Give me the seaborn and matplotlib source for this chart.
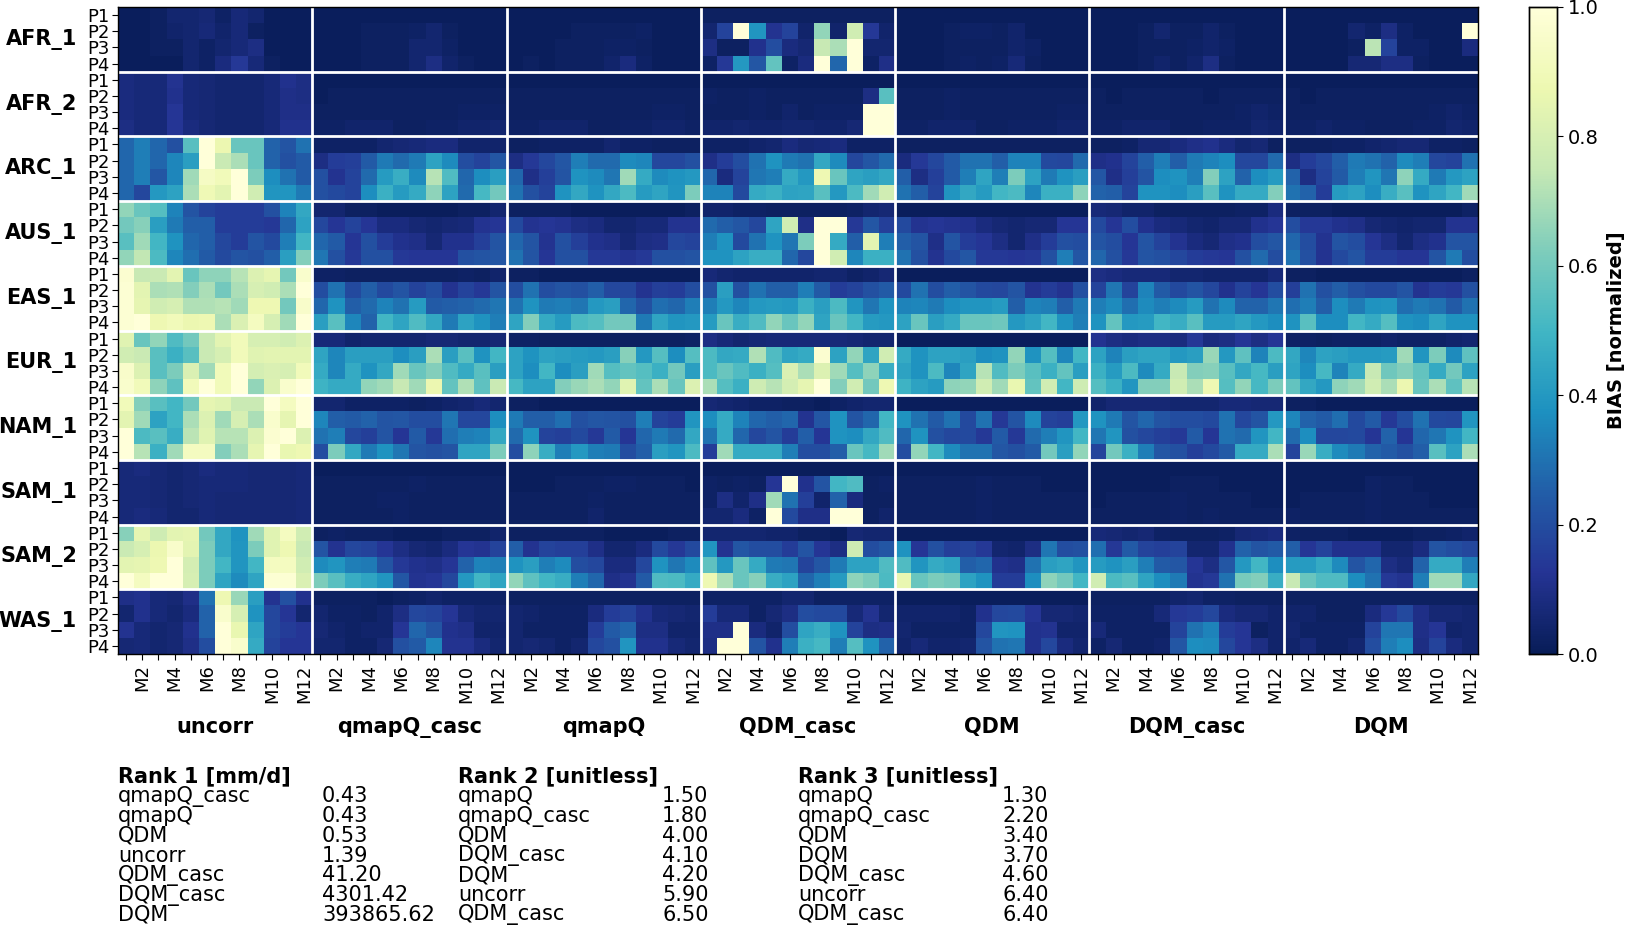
import numpy as np
import pandas as pd
import seaborn as sns
import matplotlib
matplotlib.use('Agg')
import matplotlib.pyplot as plt
from matplotlib.transforms import blended_transform_factory

regions = ['AFR_1', 'AFR_2', 'ARC_1', 'AUS_1', 'EAS_1', 'EUR_1', 'NAM_1', 'SAM_1', 'SAM_2', 'WAS_1']
periods = ['P1', 'P2', 'P3', 'P4']
months = ['M%d' % m for m in range(1, 13)]
methods = ['uncorr', 'qmapQ_casc', 'qmapQ', 'QDM_casc', 'QDM', 'DQM_casc', 'DQM']

# normalized bias, rows are region/period (P1-P4 per region), columns are months
uncorr = [
    [.01,.01,.02,.05,.05,.06,.03,.07,.05,.01,.01,.01],
    [.01,.01,.02,.04,.05,.07,.04,.07,.02,.01,.01,.01],
    [.01,.01,.02,.02,.05,.03,.05,.07,.09,.01,.01,.01],
    [.01,.01,.01,.01,.05,.03,.08,.14,.07,.02,.01,.01],
    [.08,.07,.07,.12,.07,.06,.05,.05,.05,.07,.11,.09],
    [.08,.07,.07,.11,.07,.06,.05,.05,.05,.07,.10,.09],
    [.08,.07,.07,.13,.07,.06,.05,.05,.05,.07,.10,.10],
    [.09,.07,.07,.13,.08,.06,.05,.05,.05,.07,.11,.11],
    [.27,.33,.27,.21,.55,1.0,.87,.58,.58,.26,.22,.30],
    [.27,.33,.27,.35,.42,1.0,.76,.70,.58,.26,.21,.24],
    [.27,.33,.23,.35,.68,.93,.90,1.0,.62,.37,.30,.24],
    [.27,.18,.40,.43,.70,.89,.84,1.0,.78,.39,.39,.32],
    [.66,.58,.54,.34,.22,.17,.15,.15,.15,.21,.34,.45],
    [.60,.64,.42,.32,.25,.25,.15,.15,.15,.14,.27,.43],
    [.55,.68,.50,.38,.27,.25,.18,.15,.22,.19,.33,.50],
    [.66,.74,.52,.35,.29,.24,.19,.22,.21,.25,.42,.63],
    [.97,.75,.76,.84,.58,.65,.65,.72,.82,.85,.60,.96],
    [.98,.84,.70,.71,.63,.70,.60,.70,.80,.78,.70,1.0],
    [.98,.85,.78,.80,.71,.71,.72,.68,.88,.88,.60,.95],
    [.98,1.0,.88,.90,.87,.88,.70,.81,.92,.80,.68,1.0],
    [.83,.58,.66,.53,.60,.76,.84,.90,.80,.80,.78,.82],
    [.78,.76,.55,.48,.55,.76,.80,.90,.83,.84,.84,.84],
    [.95,.82,.55,.62,.81,.68,.90,1.0,.79,.81,.80,.90],
    [.96,.90,.65,.56,.90,1.0,.90,1.0,.66,.82,.96,1.0],
    [.90,.63,.55,.50,.60,.85,.83,.76,.76,1.0,.92,1.0],
    [.84,.68,.43,.50,.70,.82,.68,.80,.70,.96,.85,1.0],
    [1.0,.52,.55,.47,.73,.83,.72,.72,.82,.97,1.0,.82],
    [1.0,.72,.48,.68,.92,.92,.63,.70,.85,1.0,.86,.88],
    [.07,.08,.06,.05,.06,.08,.07,.07,.06,.06,.06,.07],
    [.07,.07,.06,.05,.06,.07,.07,.07,.06,.06,.06,.07],
    [.07,.07,.06,.05,.06,.07,.06,.06,.06,.06,.06,.07],
    [.07,.08,.07,.05,.05,.07,.06,.06,.06,.06,.06,.07],
    [.64,.85,.77,.84,.85,.60,.45,.38,.68,.83,.92,.78],
    [.76,.80,.87,.95,.84,.62,.45,.39,.62,.83,.88,.75],
    [.84,.85,.88,1.0,.79,.62,.50,.39,.50,.92,.92,.78],
    [1.0,.92,1.0,1.0,.80,.62,.44,.36,.44,.98,.98,.81],
    [.10,.11,.07,.06,.10,.30,.88,.67,.42,.12,.21,.11],
    [.05,.11,.07,.05,.08,.26,.96,.80,.38,.18,.13,.05],
    [.12,.07,.05,.06,.11,.26,1.0,.86,.44,.18,.15,.13],
    [.06,.07,.05,.06,.10,.20,1.0,.96,.46,.17,.13,.13],
]
qmapq_casc = [
    [.01,.01,.01,.01,.01,.01,.01,.01,.01,.01,.01,.01],
    [.01,.01,.01,.02,.02,.02,.03,.05,.02,.01,.01,.01],
    [.01,.01,.01,.02,.02,.02,.05,.05,.03,.01,.01,.01],
    [.01,.01,.01,.02,.02,.02,.05,.09,.04,.02,.01,.01],
    [.01,.01,.01,.01,.01,.01,.01,.01,.01,.01,.01,.01],
    [.01,.02,.02,.02,.02,.02,.02,.02,.02,.02,.02,.02],
    [.02,.02,.02,.02,.02,.02,.02,.02,.02,.03,.03,.03],
    [.03,.03,.04,.04,.04,.02,.02,.03,.03,.04,.04,.05],
    [.03,.03,.03,.03,.05,.06,.07,.08,.08,.04,.04,.04],
    [.09,.15,.16,.24,.32,.28,.32,.43,.36,.20,.17,.23],
    [.21,.12,.17,.28,.41,.47,.36,.72,.53,.27,.37,.42],
    [.21,.19,.17,.37,.48,.41,.46,.65,.43,.28,.51,.60],
    [.05,.05,.02,.02,.01,.01,.01,.01,.01,.02,.02,.05],
    [.18,.13,.17,.13,.08,.08,.06,.05,.06,.07,.12,.13],
    [.27,.24,.13,.21,.15,.11,.10,.06,.11,.11,.16,.22],
    [.31,.21,.14,.21,.21,.14,.13,.13,.13,.21,.22,.23],
    [.03,.03,.02,.02,.02,.02,.02,.02,.02,.03,.02,.04],
    [.20,.30,.19,.25,.19,.22,.17,.20,.12,.17,.14,.22],
    [.27,.38,.25,.28,.34,.30,.41,.24,.25,.26,.28,.31],
    [.42,.55,.35,.26,.50,.44,.53,.45,.32,.43,.38,.33],
    [.07,.07,.04,.05,.05,.05,.05,.06,.06,.05,.05,.06],
    [.44,.35,.42,.42,.42,.37,.42,.70,.42,.55,.38,.50],
    [.46,.35,.46,.38,.45,.68,.58,.63,.53,.46,.55,.42],
    [.49,.46,.46,.66,.68,.75,.68,.87,.57,.71,.56,.76],
    [.05,.05,.03,.03,.03,.03,.02,.03,.04,.05,.07,.05],
    [.35,.25,.24,.26,.22,.23,.20,.20,.31,.18,.18,.37],
    [.30,.33,.18,.16,.22,.13,.24,.14,.29,.33,.34,.45],
    [.20,.62,.45,.32,.38,.31,.22,.21,.22,.44,.44,.62],
    [.01,.01,.01,.01,.01,.01,.01,.01,.01,.01,.01,.01],
    [.02,.02,.02,.02,.02,.02,.03,.02,.02,.02,.02,.02],
    [.02,.02,.02,.02,.03,.03,.02,.02,.02,.02,.02,.02],
    [.02,.02,.02,.02,.02,.03,.02,.02,.02,.02,.02,.02],
    [.02,.03,.02,.02,.02,.01,.01,.01,.02,.02,.02,.04],
    [.22,.12,.18,.17,.13,.09,.06,.05,.08,.13,.12,.17],
    [.36,.39,.33,.32,.22,.14,.11,.10,.13,.26,.34,.33],
    [.62,.55,.47,.44,.39,.23,.12,.13,.18,.40,.50,.44],
    [.02,.02,.02,.02,.01,.02,.03,.04,.03,.03,.03,.03],
    [.05,.03,.03,.02,.04,.09,.18,.17,.13,.07,.05,.05],
    [.06,.04,.03,.04,.04,.13,.27,.22,.11,.10,.04,.04],
    [.05,.05,.03,.03,.06,.21,.24,.35,.12,.12,.08,.05],
]
qmapq = [
    [.01,.01,.01,.01,.01,.01,.01,.01,.01,.01,.01,.01],
    [.01,.01,.01,.01,.02,.02,.02,.02,.03,.01,.01,.01],
    [.01,.01,.01,.02,.02,.02,.03,.03,.02,.01,.01,.01],
    [.01,.02,.01,.02,.02,.02,.04,.08,.03,.01,.01,.01],
    [.01,.01,.01,.01,.01,.01,.01,.01,.01,.01,.01,.01],
    [.02,.02,.02,.02,.02,.02,.02,.02,.02,.02,.02,.02],
    [.02,.02,.02,.02,.02,.02,.02,.02,.02,.03,.03,.02],
    [.03,.03,.04,.04,.04,.02,.02,.03,.03,.04,.04,.03],
    [.02,.02,.03,.03,.03,.03,.05,.03,.03,.02,.02,.02],
    [.09,.14,.18,.23,.33,.28,.28,.36,.35,.18,.18,.21],
    [.27,.10,.16,.22,.38,.36,.31,.68,.46,.36,.38,.40],
    [.30,.21,.17,.38,.45,.38,.45,.52,.41,.44,.39,.62],
    [.02,.02,.02,.02,.01,.01,.01,.01,.01,.01,.01,.02],
    [.19,.12,.13,.12,.09,.08,.05,.05,.07,.07,.12,.12],
    [.27,.22,.12,.21,.16,.11,.10,.06,.09,.10,.18,.17],
    [.30,.22,.13,.21,.21,.14,.14,.12,.14,.21,.21,.22],
    [.02,.02,.01,.01,.01,.01,.01,.01,.01,.01,.01,.01],
    [.20,.30,.20,.22,.21,.25,.18,.18,.12,.16,.15,.20],
    [.30,.38,.32,.33,.31,.40,.42,.27,.21,.29,.27,.33],
    [.44,.63,.46,.41,.52,.54,.60,.60,.32,.44,.39,.40],
    [.03,.03,.02,.02,.02,.02,.02,.02,.02,.02,.02,.03],
    [.43,.38,.43,.42,.41,.40,.42,.64,.40,.54,.37,.54],
    [.43,.37,.50,.37,.42,.68,.54,.57,.54,.48,.60,.42],
    [.51,.43,.43,.63,.67,.70,.66,.83,.57,.70,.58,.82],
    [.02,.02,.01,.01,.01,.01,.01,.01,.01,.01,.01,.01],
    [.32,.25,.25,.29,.21,.23,.22,.21,.33,.17,.15,.39],
    [.28,.38,.17,.16,.19,.14,.24,.13,.27,.32,.28,.45],
    [.20,.65,.47,.33,.40,.33,.32,.20,.25,.42,.39,.52],
    [.01,.01,.01,.01,.01,.01,.01,.01,.01,.01,.01,.01],
    [.01,.01,.01,.02,.02,.02,.03,.03,.02,.02,.02,.01],
    [.02,.02,.02,.02,.02,.03,.02,.02,.02,.02,.02,.02],
    [.02,.02,.02,.02,.02,.04,.02,.02,.02,.02,.02,.02],
    [.02,.02,.02,.02,.02,.02,.01,.01,.01,.01,.02,.02],
    [.25,.12,.17,.16,.16,.10,.05,.05,.08,.19,.14,.19],
    [.38,.42,.33,.36,.20,.18,.08,.08,.18,.38,.31,.36],
    [.66,.56,.50,.47,.33,.27,.10,.12,.24,.53,.52,.46],
    [.02,.02,.02,.02,.02,.02,.02,.02,.02,.02,.02,.02],
    [.05,.04,.03,.03,.03,.08,.15,.17,.11,.07,.06,.05],
    [.05,.03,.03,.03,.03,.15,.24,.27,.09,.09,.04,.04],
    [.05,.06,.05,.03,.05,.18,.21,.39,.11,.11,.07,.05],
]
qdm_casc = [
    [.02,.02,.02,.02,.02,.02,.02,.02,.02,.02,.02,.02],
    [.05,.17,1.0,.39,.12,.17,.04,.66,.04,.78,.14,.04],
    [.09,.02,.02,.11,.20,.08,.06,.75,.70,1.0,.05,.05],
    [.03,.14,.40,.23,.57,.03,.08,1.0,.27,1.0,.03,.10],
    [.01,.01,.01,.01,.01,.01,.01,.01,.01,.01,.01,.01],
    [.03,.02,.02,.03,.02,.02,.02,.02,.02,.02,.09,.55],
    [.02,.02,.02,.03,.02,.04,.02,.03,.03,.03,1.0,1.0],
    [.04,.04,.05,.04,.04,.05,.05,.04,.04,.06,1.0,1.0],
    [.03,.03,.03,.04,.05,.08,.06,.07,.08,.03,.03,.03],
    [.10,.15,.20,.30,.38,.32,.30,.45,.36,.18,.23,.28],
    [.27,.08,.17,.31,.33,.46,.40,.88,.58,.44,.42,.45],
    [.34,.34,.19,.46,.48,.43,.44,.55,.40,.52,.68,.78],
    [.04,.04,.03,.03,.02,.02,.02,.02,.02,.03,.05,.06],
    [.28,.25,.23,.18,.44,.78,.10,1.0,1.0,.14,.23,.16],
    [.33,.38,.19,.30,.38,.31,.62,1.0,.46,.25,.84,.33],
    [.38,.38,.43,.47,.47,.27,.18,1.0,.78,.35,.48,.48],
    [.07,.05,.04,.04,.04,.04,.04,.05,.05,.03,.04,.06],
    [.21,.42,.21,.30,.25,.25,.33,.24,.15,.17,.21,.24],
    [.33,.40,.35,.40,.41,.40,.48,.42,.52,.39,.31,.38],
    [.41,.58,.47,.53,.66,.58,.66,.44,.58,.50,.41,.40],
    [.09,.07,.05,.06,.07,.07,.07,.07,.07,.06,.05,.05],
    [.52,.45,.46,.71,.53,.44,.46,.97,.43,.66,.44,.78],
    [.52,.58,.53,.48,.54,.81,.70,.82,.68,.54,.65,.47],
    [.70,.54,.48,.77,.72,.79,.85,1.0,.63,.78,.60,.88],
    [.06,.05,.04,.03,.03,.02,.02,.01,.03,.04,.05,.05],
    [.37,.46,.34,.27,.25,.27,.12,.23,.38,.22,.27,.50],
    [.30,.46,.27,.18,.22,.15,.25,.13,.38,.37,.45,.53],
    [.15,.68,.46,.46,.46,.33,.20,.20,.25,.58,.51,.68],
    [.01,.01,.01,.01,.01,.01,.01,.01,.01,.01,.01,.01],
    [.03,.02,.03,.02,.13,1.0,.11,.22,.50,.53,.02,.03],
    [.03,.09,.04,.10,.68,.30,.16,.04,.26,.08,.02,.02],
    [.05,.05,.08,.03,1.0,.19,.10,.10,1.0,1.0,.02,.04],
    [.05,.05,.05,.05,.04,.04,.02,.02,.01,.06,.05,.05],
    [.39,.12,.23,.20,.20,.15,.22,.13,.09,.77,.20,.23],
    [.56,.40,.58,.46,.32,.31,.17,.23,.32,.43,.43,.53],
    [.88,.70,.58,.64,.47,.43,.27,.33,.41,.65,.62,.52],
    [.03,.03,.03,.03,.03,.05,.05,.02,.03,.03,.03,.03],
    [.15,.07,.07,.03,.06,.09,.20,.19,.19,.07,.12,.05],
    [.10,.10,1.0,.08,.04,.20,.44,.47,.38,.17,.09,.10],
    [.09,1.0,1.0,.22,.11,.33,.48,.51,.33,.54,.38,.26],
]
qdm = [
    [.01,.01,.01,.01,.01,.01,.01,.01,.01,.01,.01,.01],
    [.01,.01,.01,.02,.03,.03,.02,.04,.01,.01,.01,.01],
    [.01,.01,.01,.02,.02,.02,.02,.04,.03,.01,.01,.01],
    [.01,.01,.01,.02,.03,.02,.03,.07,.02,.01,.01,.01],
    [.01,.01,.01,.01,.01,.01,.01,.01,.01,.01,.01,.01],
    [.02,.02,.02,.03,.02,.02,.02,.02,.02,.02,.02,.02],
    [.02,.02,.02,.03,.02,.02,.02,.02,.02,.02,.03,.03],
    [.03,.03,.04,.04,.04,.02,.02,.03,.03,.03,.04,.04],
    [.02,.02,.02,.02,.02,.02,.02,.02,.02,.02,.02,.02],
    [.08,.14,.18,.24,.30,.30,.25,.34,.34,.19,.18,.28],
    [.25,.09,.16,.24,.33,.44,.33,.62,.43,.32,.38,.42],
    [.30,.25,.17,.39,.45,.41,.50,.52,.35,.48,.48,.65],
    [.01,.01,.01,.01,.01,.01,.01,.01,.01,.01,.01,.01],
    [.19,.12,.13,.12,.11,.08,.06,.05,.06,.06,.13,.13],
    [.25,.22,.10,.22,.15,.13,.09,.05,.10,.15,.21,.20],
    [.30,.21,.12,.19,.23,.14,.14,.13,.14,.21,.33,.23],
    [.01,.01,.01,.01,.01,.01,.01,.01,.01,.01,.01,.01],
    [.19,.30,.20,.25,.22,.19,.18,.22,.12,.15,.12,.21],
    [.34,.35,.32,.37,.39,.39,.41,.25,.34,.33,.25,.32],
    [.43,.58,.42,.46,.58,.58,.59,.40,.43,.50,.38,.33],
    [.01,.01,.01,.01,.01,.01,.01,.01,.01,.01,.01,.01],
    [.46,.38,.43,.43,.42,.37,.38,.66,.38,.54,.35,.50],
    [.43,.38,.52,.35,.44,.72,.53,.62,.55,.48,.57,.42],
    [.49,.43,.41,.65,.66,.78,.68,.86,.57,.78,.50,.77],
    [.01,.01,.01,.01,.01,.01,.01,.01,.01,.01,.01,.01],
    [.38,.30,.24,.30,.19,.30,.14,.22,.36,.17,.16,.40],
    [.27,.38,.21,.18,.19,.14,.24,.14,.28,.33,.39,.50],
    [.20,.66,.50,.36,.30,.30,.23,.21,.24,.60,.42,.66],
    [.01,.01,.01,.01,.01,.01,.01,.01,.01,.01,.01,.01],
    [.02,.02,.02,.02,.02,.03,.02,.02,.02,.01,.01,.01],
    [.02,.02,.02,.02,.02,.03,.02,.02,.02,.02,.02,.02],
    [.02,.02,.02,.02,.02,.03,.02,.02,.02,.02,.02,.02],
    [.01,.01,.01,.01,.01,.01,.01,.01,.01,.01,.01,.01],
    [.38,.13,.21,.16,.17,.14,.05,.04,.09,.31,.20,.21],
    [.53,.39,.46,.43,.25,.27,.11,.10,.30,.42,.44,.39],
    [.86,.58,.62,.60,.43,.38,.15,.15,.37,.65,.60,.50],
    [.01,.01,.01,.01,.01,.01,.01,.01,.01,.01,.01,.01],
    [.04,.04,.04,.04,.03,.11,.18,.19,.13,.06,.06,.05],
    [.05,.03,.03,.03,.03,.18,.39,.38,.11,.12,.04,.04],
    [.04,.07,.04,.04,.05,.22,.30,.31,.11,.18,.08,.05],
]
dqm_casc = [
    [.01,.01,.01,.01,.01,.01,.01,.01,.01,.01,.01,.01],
    [.01,.01,.01,.02,.05,.02,.02,.04,.02,.01,.01,.01],
    [.01,.01,.01,.02,.02,.02,.03,.04,.03,.01,.01,.01],
    [.01,.01,.01,.02,.04,.02,.04,.09,.02,.01,.01,.01],
    [.01,.01,.01,.01,.01,.01,.01,.01,.01,.01,.01,.01],
    [.02,.01,.02,.02,.02,.02,.02,.01,.02,.02,.02,.02],
    [.02,.02,.02,.02,.02,.02,.02,.02,.02,.03,.04,.03],
    [.03,.03,.04,.04,.04,.02,.02,.03,.03,.03,.05,.04],
    [.02,.02,.03,.06,.06,.08,.10,.11,.08,.05,.06,.02],
    [.10,.11,.17,.25,.33,.25,.32,.34,.37,.18,.18,.28],
    [.23,.10,.16,.22,.37,.38,.33,.63,.43,.26,.37,.41],
    [.26,.25,.17,.38,.38,.37,.42,.55,.38,.46,.46,.63],
    [.07,.06,.04,.04,.02,.02,.02,.02,.02,.03,.03,.08],
    [.19,.13,.20,.11,.08,.07,.05,.04,.06,.06,.11,.13],
    [.22,.20,.13,.22,.17,.12,.08,.06,.10,.11,.20,.23],
    [.27,.21,.14,.22,.21,.18,.15,.14,.13,.21,.28,.20],
    [.09,.08,.07,.07,.07,.05,.05,.04,.04,.04,.04,.07],
    [.17,.31,.17,.34,.24,.19,.22,.18,.11,.17,.13,.20],
    [.33,.36,.29,.36,.33,.36,.41,.30,.36,.26,.26,.31],
    [.38,.57,.40,.41,.50,.47,.55,.41,.41,.44,.40,.37],
    [.12,.09,.08,.09,.09,.08,.14,.08,.09,.13,.09,.13],
    [.43,.34,.42,.44,.44,.40,.42,.67,.40,.56,.34,.52],
    [.48,.41,.52,.36,.46,.75,.63,.64,.55,.45,.51,.42],
    [.54,.48,.39,.63,.63,.78,.70,.88,.54,.66,.51,.62],
    [.04,.06,.06,.06,.06,.05,.05,.05,.07,.07,.06,.06],
    [.38,.32,.22,.27,.22,.20,.20,.19,.30,.18,.22,.40],
    [.31,.39,.21,.18,.16,.14,.24,.13,.30,.28,.39,.50],
    [.17,.60,.48,.33,.23,.21,.16,.19,.24,.46,.46,.70],
    [.01,.01,.01,.01,.01,.01,.01,.01,.01,.01,.01,.01],
    [.01,.01,.01,.01,.01,.02,.02,.02,.01,.01,.01,.01],
    [.01,.02,.02,.02,.02,.03,.02,.02,.02,.02,.01,.01],
    [.02,.02,.02,.02,.02,.03,.02,.03,.02,.02,.02,.02],
    [.07,.06,.05,.06,.03,.02,.02,.02,.03,.06,.07,.08],
    [.29,.14,.24,.17,.16,.17,.05,.05,.11,.26,.22,.24],
    [.41,.38,.42,.33,.24,.23,.13,.09,.23,.40,.50,.37],
    [.78,.52,.55,.44,.37,.32,.12,.14,.30,.61,.63,.47],
    [.02,.02,.02,.02,.02,.04,.05,.03,.03,.02,.02,.02],
    [.03,.03,.03,.03,.07,.14,.15,.18,.08,.06,.06,.04],
    [.07,.03,.03,.03,.03,.17,.30,.34,.15,.13,.02,.04],
    [.03,.06,.03,.03,.04,.23,.37,.36,.18,.13,.09,.04],
]
dqm = [
    [.01,.01,.01,.01,.01,.01,.01,.01,.01,.01,.01,.01],
    [.01,.01,.01,.01,.05,.03,.09,.03,.01,.01,.01,1.0],
    [.01,.01,.01,.01,.02,.73,.17,.03,.03,.01,.01,.08],
    [.01,.01,.01,.01,.06,.06,.09,.09,.02,.01,.01,.01],
    [.01,.01,.01,.01,.01,.01,.01,.01,.01,.01,.01,.01],
    [.02,.01,.02,.02,.02,.02,.02,.02,.02,.02,.02,.02],
    [.02,.02,.02,.02,.02,.02,.02,.02,.02,.03,.04,.03],
    [.03,.03,.04,.03,.03,.02,.02,.02,.03,.03,.05,.04],
    [.02,.02,.02,.03,.03,.04,.05,.06,.06,.03,.03,.02],
    [.09,.15,.18,.25,.32,.30,.26,.36,.33,.18,.17,.30],
    [.26,.09,.17,.24,.33,.39,.31,.65,.46,.32,.40,.43],
    [.30,.26,.15,.41,.43,.37,.47,.55,.38,.44,.50,.68],
    [.02,.02,.02,.01,.01,.01,.01,.01,.01,.01,.01,.03],
    [.20,.14,.14,.11,.10,.06,.05,.04,.05,.05,.12,.12],
    [.27,.20,.12,.22,.20,.13,.09,.05,.09,.11,.22,.22],
    [.30,.21,.12,.19,.22,.15,.15,.13,.13,.22,.32,.20],
    [.02,.02,.01,.01,.01,.01,.01,.01,.01,.01,.01,.02],
    [.16,.30,.21,.25,.21,.19,.19,.22,.12,.15,.14,.21],
    [.29,.33,.25,.37,.32,.38,.39,.29,.32,.30,.24,.30],
    [.38,.55,.37,.37,.50,.46,.54,.38,.37,.44,.38,.38],
    [.03,.03,.02,.03,.03,.03,.04,.03,.03,.03,.04,.05],
    [.45,.35,.43,.42,.40,.40,.41,.68,.39,.62,.36,.56],
    [.44,.37,.51,.34,.46,.75,.59,.63,.57,.46,.60,.43],
    [.57,.45,.40,.65,.68,.78,.70,.87,.58,.70,.56,.72],
    [.02,.02,.01,.01,.01,.01,.01,.01,.01,.01,.01,.01],
    [.35,.26,.24,.29,.19,.24,.14,.20,.30,.19,.18,.39],
    [.28,.37,.18,.18,.19,.13,.26,.13,.27,.31,.38,.50],
    [.17,.67,.47,.36,.32,.26,.24,.21,.25,.55,.43,.70],
    [.01,.01,.01,.01,.01,.01,.01,.01,.01,.01,.01,.01],
    [.01,.01,.01,.01,.01,.03,.02,.02,.01,.01,.01,.01],
    [.01,.02,.02,.02,.02,.03,.02,.02,.02,.01,.01,.01],
    [.03,.02,.02,.02,.02,.03,.02,.02,.02,.02,.02,.02],
    [.03,.02,.02,.02,.01,.01,.01,.01,.02,.02,.03,.04],
    [.25,.13,.17,.11,.11,.11,.05,.05,.08,.22,.20,.18],
    [.41,.41,.46,.36,.22,.27,.09,.07,.26,.46,.46,.33],
    [.75,.58,.53,.53,.37,.30,.14,.12,.33,.68,.68,.45],
    [.02,.02,.02,.02,.02,.02,.02,.02,.02,.02,.02,.02],
    [.04,.04,.02,.02,.02,.08,.14,.19,.10,.06,.06,.05],
    [.05,.03,.03,.03,.03,.17,.31,.31,.10,.13,.04,.05],
    [.04,.07,.03,.03,.05,.20,.33,.37,.09,.17,.08,.05],
]

# rank tables below the heatmap
rank1_names = ['qmapQ_casc', 'qmapQ', 'QDM', 'uncorr', 'QDM_casc', 'DQM_casc', 'DQM']
rank1_vals = ['0.43', '0.43', '0.53', '1.39', '41.20', '4301.42', '393865.62']
rank2_names = ['qmapQ', 'qmapQ_casc', 'QDM', 'DQM_casc', 'DQM', 'uncorr', 'QDM_casc']
rank2_vals = ['1.50', '1.80', '4.00', '4.10', '4.20', '5.90', '6.50']
rank3_names = ['qmapQ', 'qmapQ_casc', 'QDM', 'DQM', 'DQM_casc', 'uncorr', 'QDM_casc']
rank3_vals = ['1.30', '2.20', '3.40', '3.70', '4.60', '6.40', '6.40']

W, H = 1626, 925
FS = 15

data = np.hstack([uncorr, qmapq_casc, qmapq, qdm_casc, qdm, dqm_casc, dqm])
xcols = [m + '_' + c for m in methods for c in months]
yrows = [r + '_' + p for r in regions for p in periods]
df = pd.DataFrame(data, index=yrows, columns=xcols)

fig = plt.figure(figsize=(W / 100, H / 100), dpi=100)
ax = fig.add_axes([118 / W, 1 - 654 / H, 1360 / W, 647 / H])
cax = fig.add_axes([1529 / W, 1 - 654 / H, 28 / W, 647 / H])

xlabels = [m if i % 2 == 1 else '' for k in methods for i, m in enumerate(months)]
ylabels = periods * len(regions)
sns.heatmap(df, ax=ax, cbar_ax=cax, cmap='YlGnBu_r', vmin=0, vmax=1,
            xticklabels=xlabels, yticklabels=ylabels, rasterized=True,
            cbar_kws={'ticks': np.arange(0, 1.01, 0.2), 'format': '%.1f'})
ax.tick_params(axis='x', labelsize=13, labelrotation=90, length=4)
ax.tick_params(axis='y', labelsize=13, labelrotation=0, length=4, pad=2)
plt.setp(ax.get_yticklabels(), va='center_baseline')
for s in ax.spines.values():
    s.set_visible(True)
    s.set_linewidth(1)

# group separators
for i in range(1, len(methods)):
    ax.axvline(i * len(months), color='white', lw=2)
for i in range(1, len(regions)):
    ax.axhline(i * len(periods), color='white', lw=2)

# region and method names
left_trans = blended_transform_factory(fig.transFigure, ax.transData)
for i, r in enumerate(regions):
    ax.text(77 / W, (i + 0.5) * len(periods), r, transform=left_trans,
            ha='right', va='center', fontsize=FS, fontweight='bold')
below_trans = blended_transform_factory(ax.transData, fig.transFigure)
for i, m in enumerate(methods):
    ax.text((i + 0.5) * len(months), 1 - 727 / H, m, transform=below_trans,
            ha='center', va='center', fontsize=FS, fontweight='bold')

cax.tick_params(labelsize=FS - 1, length=4)
cax.set_ylabel('BIAS [normalized]', fontsize=FS - 1, fontweight='bold', labelpad=6)
for s in cax.spines.values():
    s.set_visible(True)
    s.set_linewidth(1)

# rank tables
tables = [('Rank 1 [mm/d]', rank1_names, rank1_vals, 118, 322),
          ('Rank 2 [unitless]', rank2_names, rank2_vals, 458, 662),
          ('Rank 3 [unitless]', rank3_names, rank3_vals, 798, 1002)]
for title, names, vals, x0, x1 in tables:
    fig.text(x0 / W, 1 - 776 / H, title, fontsize=FS, fontweight='bold', va='center')
    for j, (n, v) in enumerate(zip(names, vals)):
        y = 1 - (796.5 + 19.7 * j) / H
        fig.text(x0 / W, y, n, fontsize=FS, va='center')
        fig.text(x1 / W, y, v, fontsize=FS, va='center')

fig.savefig('out.png', dpi=100)
